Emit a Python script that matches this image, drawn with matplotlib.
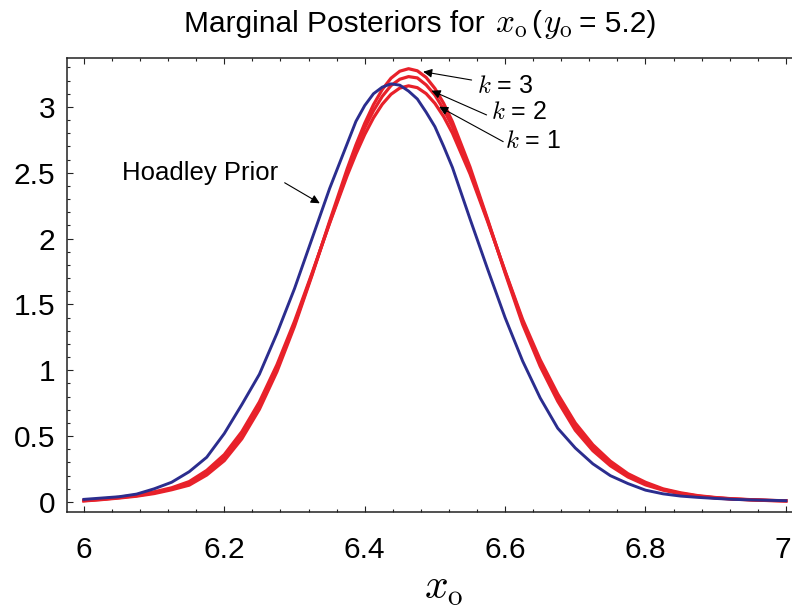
import matplotlib
matplotlib.use("Agg")
import matplotlib.pyplot as plt
from matplotlib.ticker import FixedLocator, MultipleLocator, FuncFormatter
from matplotlib.transforms import ScaledTranslation

plt.rcParams['font.family'] = ['Liberation Sans', 'DejaVu Sans']
plt.rcParams['mathtext.fontset'] = 'cm'

# ---- data ----
x_vals = [6.000, 6.025, 6.050, 6.075, 6.100, 6.125, 6.150, 6.175, 6.200, 6.225,
          6.250, 6.275, 6.300, 6.325, 6.350, 6.375, 6.3875, 6.400, 6.4125, 6.425,
          6.4375, 6.450, 6.4625, 6.475, 6.4875, 6.500, 6.5125, 6.525, 6.550, 6.575,
          6.600, 6.625, 6.650, 6.675, 6.700, 6.725, 6.750, 6.775, 6.800, 6.825,
          6.850, 6.875, 6.900, 6.925, 6.950, 6.975, 7.000]

prior = [0.020, 0.030, 0.040, 0.060, 0.100, 0.150, 0.230, 0.340, 0.520, 0.740,
         0.970, 1.280, 1.620, 2.000, 2.380, 2.720, 2.890, 3.010, 3.100, 3.150,
         3.175, 3.165, 3.120, 3.060, 2.960, 2.850, 2.700, 2.540, 2.150, 1.770,
         1.400, 1.070, 0.790, 0.560, 0.410, 0.290, 0.200, 0.140, 0.090, 0.062,
         0.045, 0.035, 0.027, 0.020, 0.016, 0.013, 0.010]

post_k1 = [0.012, 0.022, 0.036, 0.053, 0.077, 0.108, 0.155, 0.240, 0.360, 0.534,
           0.760, 1.042, 1.372, 1.738, 2.116, 2.478, 2.642, 2.790, 2.917, 3.020,
           3.096, 3.143, 3.160, 3.146, 3.101, 3.027, 2.926, 2.801, 2.492, 2.131,
           1.753, 1.386, 1.080, 0.820, 0.600, 0.435, 0.310, 0.215, 0.150, 0.100,
           0.070, 0.048, 0.034, 0.024, 0.018, 0.013, 0.009]

post_k2 = [0.010, 0.020, 0.033, 0.048, 0.070, 0.100, 0.140, 0.220, 0.340, 0.500,
           0.730, 1.010, 1.350, 1.730, 2.120, 2.500, 2.679, 2.840, 2.971, 3.080,
           3.162, 3.210, 3.230, 3.220, 3.167, 3.090, 2.981, 2.850, 2.520, 2.140,
           1.750, 1.370, 1.050, 0.790, 0.570, 0.410, 0.290, 0.200, 0.140, 0.095,
           0.065, 0.045, 0.032, 0.023, 0.017, 0.012, 0.009]

post_k3 = [0.008, 0.018, 0.030, 0.044, 0.064, 0.093, 0.128, 0.205, 0.314, 0.480,
           0.704, 0.990, 1.334, 1.722, 2.132, 2.529, 2.711, 2.875, 3.017, 3.132,
           3.218, 3.271, 3.290, 3.274, 3.224, 3.140, 3.027, 2.887, 2.544, 2.148,
           1.739, 1.349, 1.030, 0.765, 0.545, 0.390, 0.275, 0.190, 0.130, 0.090,
           0.062, 0.043, 0.030, 0.022, 0.016, 0.011, 0.008]

x_ticks = [6.0, 6.2, 6.4, 6.6, 6.8, 7.0]
x_ticklabels = ["6", "6.2", "6.4", "6.6", "6.8", "7"]
y_ticks = [0, 0.5, 1, 1.5, 2, 2.5, 3]
y_ticklabels = ["0", "0.5", "1", "1.5", "2", "2.5", "3"]

title_parts = ["Marginal Posteriors for", r"$x_{\mathrm{o}}$", "(", r"$y_{\mathrm{o}}$", "= 5.2)"]
xlabel_text = r"$x_{\mathrm{o}}$"
prior_label = "Hoadley Prior"
k_labels = [r"$k$ = 1", r"$k$ = 2", r"$k$ = 3"]

RED = '#e8212a'
BLUE = '#2b2d8e'

fig = plt.figure(figsize=(7.92, 6.11), dpi=100)
ax = fig.add_axes([66.7 / 792, 99 / 611, 725.3 / 792, (512 - 58.3) / 611])

for ys in (post_k1, post_k2, post_k3):
    ax.plot(x_vals, ys, color=RED, lw=2.3, solid_joinstyle='round', zorder=2)
ax.plot(x_vals, prior, color=BLUE, lw=2.1, solid_joinstyle='round', zorder=3)

ax.set_xlim(5.9755, 7.0087)
ax.set_ylim(-0.0759, 3.369)

def xfmt(v, p):
    r = round(v, 1)
    return x_ticklabels[x_ticks.index(r)] if r in x_ticks else ""

def yfmt(v, p):
    return y_ticklabels[y_ticks.index(v)] if v in y_ticks else ""

ax.xaxis.set_major_locator(FixedLocator(x_ticks))
ax.xaxis.set_major_formatter(FuncFormatter(xfmt))
ax.xaxis.set_minor_locator(MultipleLocator(0.04))
ax.yaxis.set_major_locator(FixedLocator(y_ticks))
ax.yaxis.set_major_formatter(FuncFormatter(yfmt))
ax.yaxis.set_minor_locator(MultipleLocator(0.1))

ax.spines['right'].set_visible(False)
for s in ('left', 'bottom', 'top'):
    ax.spines[s].set_linewidth(1.1)
    ax.spines[s].set_color('#222222')

ax.tick_params(axis='both', which='both', direction='in', color='#222222', width=0.8)
ax.tick_params(axis='x', which='both', top=True, bottom=True)
ax.tick_params(axis='both', which='major', length=4.0, labelsize=21.5)
ax.tick_params(axis='both', which='minor', length=2.2)
ax.tick_params(axis='x', which='major', pad=17.5)
ax.tick_params(axis='y', which='major', pad=8.4)

fig.canvas.draw()
renderer = fig.canvas.get_renderer()
last = ax.xaxis.get_majorticklabels()[-1]
last.set_transform(last.get_transform() + ScaledTranslation(-3 / 100, 0, fig.dpi_scale_trans))

# title: text pieces and larger math pieces laid out sequentially on a common baseline
title_sizes = [21.5, 24, 21.5, 24, 21.5]
title_gaps = [11, 4, 2, 6, 0]
pieces = []
for txt, fs in zip(title_parts, title_sizes):
    t = fig.text(0, 1 - 32 / 611, txt, ha='left', va='baseline', fontsize=fs)
    pieces.append(t)
widths = [t.get_window_extent(renderer).width for t in pieces]
total = sum(widths) + sum(title_gaps[:-1])
cur = 420 - total / 2
for t, w, g in zip(pieces, widths, title_gaps):
    t.set_x(cur / 792)
    cur += w + g

fig.text(424 / 792, 1 - 599 / 611, xlabel_text, ha='left', va='baseline', fontsize=30)

arrow = dict(arrowstyle='-|>', color='black', lw=0.8, mutation_scale=13,
             shrinkA=0, shrinkB=0)
ax.annotate("", xy=(6.336, 2.268), xytext=(6.286, 2.424), arrowprops=arrow)
ax.text(6.1652, 2.498, prior_label, ha='center', va='center', fontsize=18.5)

k_text_pos = [(6.6396, 2.741), (6.6197, 2.961), (6.5997, 3.159)]
k_arrow_start = [(6.5973, 2.736), (6.5736, 2.939), (6.5523, 3.204)]
k_arrow_tip = [(6.5061, 3.0015), (6.4953, 3.123), (6.4833, 3.267)]
for lab, tp, st, tip in zip(k_labels, k_text_pos, k_arrow_start, k_arrow_tip):
    ax.annotate("", xy=tip, xytext=st, arrowprops=arrow)
    ax.text(tp[0], tp[1], lab, ha='center', va='center', fontsize=18)

fig.savefig("out.png", dpi=100)
